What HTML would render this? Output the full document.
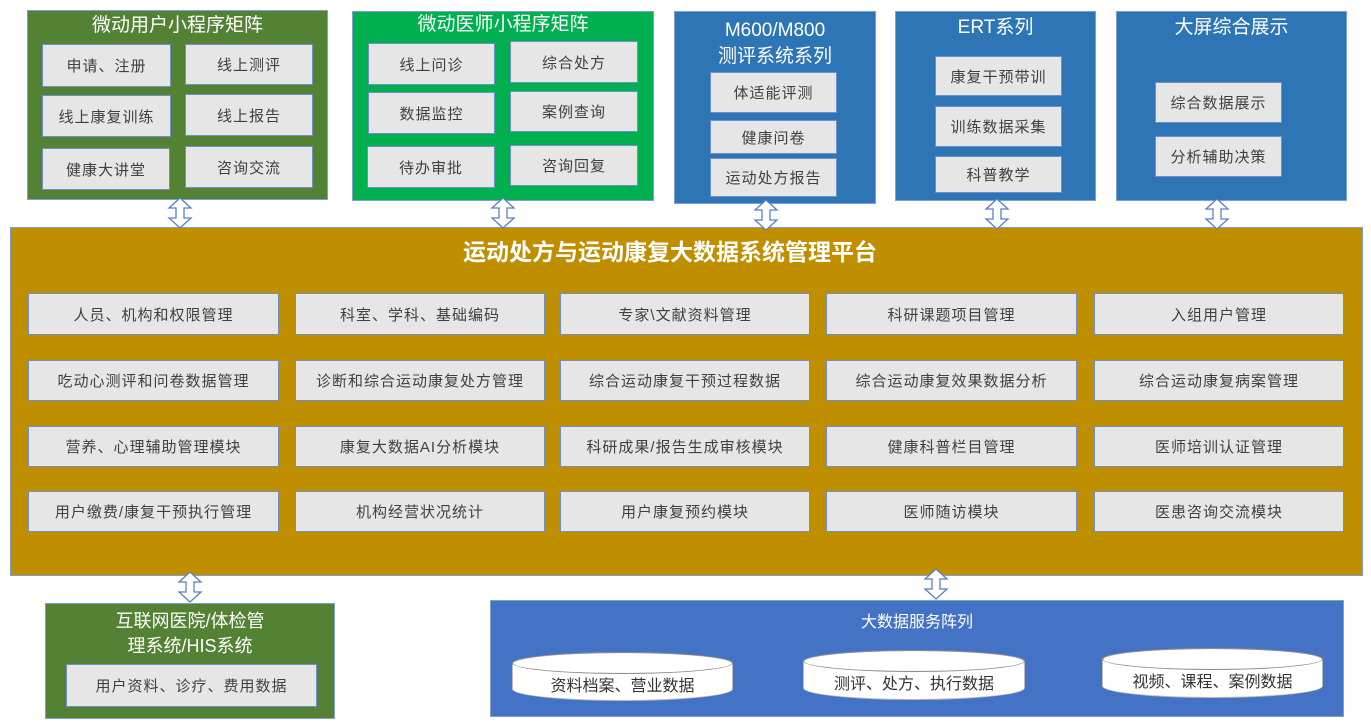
<!DOCTYPE html>
<html><head><meta charset="utf-8"><style>
body{margin:0;width:1371px;height:723px;background:#fff;position:relative;overflow:hidden;font-family:"Liberation Sans","Noto Sans CJK SC",sans-serif}
.c{position:absolute;box-sizing:border-box;border:1px solid #7f9fd0}
.t{position:absolute;color:#fff;text-align:center;font-size:19px;line-height:25px}
.b{position:absolute;box-sizing:border-box;background:#e6e6e6;border:1.5px solid #6f8fc8;color:#404040;font-size:15px;display:flex;align-items:center;justify-content:center;letter-spacing:1px}
.cyl{position:absolute;box-sizing:border-box;background:#fff;border:1px solid #bbb;border-radius:50%/12px;color:#333;font-size:16px;display:flex;align-items:center;justify-content:center;padding-top:14px}
.cyl:before{content:"";position:absolute;left:-1px;right:-1px;top:-1px;height:22px;border:1px solid #888;border-radius:50%;box-sizing:border-box}
svg{position:absolute;left:0;top:0}
</style></head><body>
<div class="c" style="left:27px;top:10px;width:301px;height:190px;background:#548235"></div>
<div class="t" style="left:27px;top:13px;width:301px">微动用户小程序矩阵</div>
<div class="b" style="left:42px;top:44px;width:129px;height:43px">申请、注册</div>
<div class="b" style="left:185px;top:44px;width:128px;height:41px">线上测评</div>
<div class="b" style="left:42px;top:95px;width:129px;height:42px">线上康复训练</div>
<div class="b" style="left:185px;top:94px;width:128px;height:42px">线上报告</div>
<div class="b" style="left:42px;top:148px;width:128px;height:42px">健康大讲堂</div>
<div class="b" style="left:185px;top:146px;width:128px;height:42px">咨询交流</div>

<div class="c" style="left:352px;top:11px;width:302px;height:190px;background:#00b050"></div>
<div class="t" style="left:352px;top:12px;width:302px">微动医师小程序矩阵</div>
<div class="b" style="left:368px;top:43px;width:127px;height:42px">线上问诊</div>
<div class="b" style="left:510px;top:41px;width:128px;height:42px">综合处方</div>
<div class="b" style="left:368px;top:92px;width:127px;height:42px">数据监控</div>
<div class="b" style="left:510px;top:91px;width:128px;height:41px">案例查询</div>
<div class="b" style="left:367px;top:146px;width:128px;height:42px">待办审批</div>
<div class="b" style="left:510px;top:145px;width:128px;height:41px">咨询回复</div>

<div class="c" style="left:674px;top:11px;width:202px;height:193px;background:#2e75b6"></div>
<div class="t" style="left:674px;top:18px;width:202px;line-height:26px">M600/M800<br>测评系统系列</div>
<div class="b" style="left:710px;top:72px;width:127px;height:41px">体适能评测</div>
<div class="b" style="left:710px;top:120px;width:127px;height:34px">健康问卷</div>
<div class="b" style="left:710px;top:158px;width:127px;height:39px">运动处方报告</div>

<div class="c" style="left:895px;top:11px;width:201px;height:190px;background:#2e75b6"></div>
<div class="t" style="left:895px;top:15px;width:201px">ERT系列</div>
<div class="b" style="left:935px;top:56px;width:127px;height:40px">康复干预带训</div>
<div class="b" style="left:935px;top:106px;width:127px;height:41px">训练数据采集</div>
<div class="b" style="left:935px;top:156px;width:127px;height:37px">科普教学</div>

<div class="c" style="left:1116px;top:11px;width:231px;height:190px;background:#2e75b6"></div>
<div class="t" style="left:1116px;top:15px;width:231px">大屏综合展示</div>
<div class="b" style="left:1155px;top:82px;width:127px;height:41px">综合数据展示</div>
<div class="b" style="left:1155px;top:136px;width:127px;height:41px">分析辅助决策</div>

<div class="c" style="left:10px;top:227px;width:1353px;height:349px;background:#bf8f00"></div>
<div class="t" style="left:300px;top:238px;width:740px;font-size:23px;line-height:28px;font-weight:bold">运动处方与运动康复大数据系统管理平台</div>
<div class="b" style="left:28px;top:293px;width:251px;height:42px">人员、机构和权限管理</div>
<div class="b" style="left:295px;top:293px;width:250px;height:42px">科室、学科、基础编码</div>
<div class="b" style="left:560px;top:293px;width:250px;height:42px">专家\文献资料管理</div>
<div class="b" style="left:826px;top:293px;width:251px;height:42px">科研课题项目管理</div>
<div class="b" style="left:1094px;top:293px;width:250px;height:42px">入组用户管理</div>
<div class="b" style="left:28px;top:360px;width:251px;height:41px">吃动心测评和问卷数据管理</div>
<div class="b" style="left:295px;top:360px;width:250px;height:41px">诊断和综合运动康复处方管理</div>
<div class="b" style="left:560px;top:360px;width:250px;height:41px">综合运动康复干预过程数据</div>
<div class="b" style="left:826px;top:360px;width:251px;height:41px">综合运动康复效果数据分析</div>
<div class="b" style="left:1094px;top:360px;width:250px;height:41px">综合运动康复病案管理</div>
<div class="b" style="left:28px;top:426px;width:251px;height:41px">营养、心理辅助管理模块</div>
<div class="b" style="left:295px;top:426px;width:250px;height:41px">康复大数据AI分析模块</div>
<div class="b" style="left:560px;top:426px;width:250px;height:41px">科研成果/报告生成审核模块</div>
<div class="b" style="left:826px;top:426px;width:251px;height:41px">健康科普栏目管理</div>
<div class="b" style="left:1094px;top:426px;width:250px;height:41px">医师培训认证管理</div>
<div class="b" style="left:28px;top:491px;width:251px;height:41px">用户缴费/康复干预执行管理</div>
<div class="b" style="left:295px;top:491px;width:250px;height:41px">机构经营状况统计</div>
<div class="b" style="left:560px;top:491px;width:250px;height:41px">用户康复预约模块</div>
<div class="b" style="left:826px;top:491px;width:251px;height:41px">医师随访模块</div>
<div class="b" style="left:1094px;top:491px;width:250px;height:41px">医患咨询交流模块</div>

<div class="c" style="left:45px;top:603px;width:290px;height:116px;background:#548235"></div>
<div class="t" style="left:45px;top:609px;width:290px;font-size:18px;line-height:25px">互联网医院/体检管<br>理系统/HIS系统</div>
<div class="b" style="left:66px;top:664px;width:251px;height:43px">用户资料、诊疗、费用数据</div>

<div class="c" style="left:490px;top:600px;width:854px;height:117px;background:#4472c4"></div>
<div class="t" style="left:490px;top:610px;width:854px;font-size:16px">大数据服务阵列</div>
<div class="cyl" style="left:512px;top:652px;width:221px;height:49px">资料档案、营业数据</div>
<div class="cyl" style="left:803px;top:650px;width:222px;height:50px">测评、处方、执行数据</div>
<div class="cyl" style="left:1102px;top:648px;width:221px;height:50px">视频、课程、案例数据</div>

<svg width="1371" height="723">
<defs><path id="a" d="M0,0 L-11,10 L-4,10 L-4,20 L-11,20 L0,30 L11,20 L4,20 L4,10 L11,10 Z" fill="#fff" stroke="#5b7fbf" stroke-width="1.3"/></defs>
<use href="#a" x="180" y="198"/>
<use href="#a" x="503" y="198"/>
<use href="#a" x="766" y="200"/>
<use href="#a" x="997" y="199"/>
<use href="#a" x="1217" y="199"/>
<use href="#a" x="190" y="572"/>
<use href="#a" x="936" y="569"/>
</svg>
</body></html>
